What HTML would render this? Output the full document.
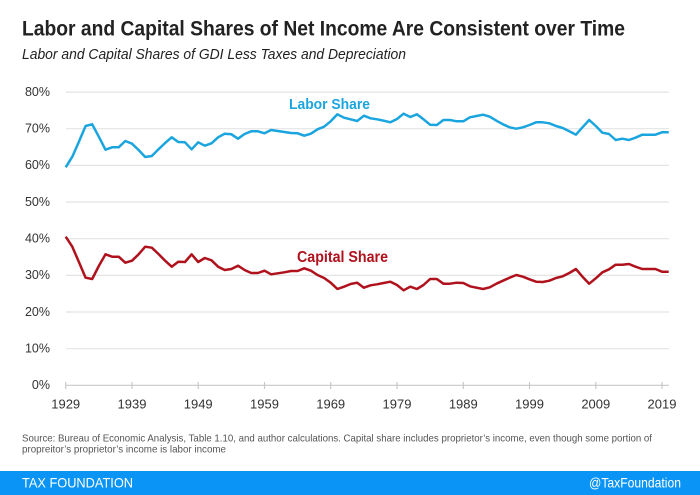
<!DOCTYPE html>
<html><head><meta charset="utf-8"><style>
html,body{margin:0;padding:0;background:#fff;}
svg{display:block;}
text{font-family:"Liberation Sans",sans-serif;}
</style></head><body>
<svg width="700" height="495" viewBox="0 0 700 495" xmlns="http://www.w3.org/2000/svg">
<rect width="700" height="495" fill="#fff"/>
<text x="22" y="35.5" font-size="21" font-weight="bold" fill="#222" textLength="603" lengthAdjust="spacingAndGlyphs">Labor and Capital Shares of Net Income Are Consistent over Time</text>
<text x="22" y="59" font-size="14.5" font-style="italic" fill="#222" textLength="384" lengthAdjust="spacingAndGlyphs">Labor and Capital Shares of GDI Less Taxes and Depreciation</text>

<g stroke="#e4e4e4" stroke-width="1.2">
<line x1="66" y1="92.1" x2="669" y2="92.1"/>
<line x1="66" y1="128.7" x2="669" y2="128.7"/>
<line x1="66" y1="165.4" x2="669" y2="165.4"/>
<line x1="66" y1="202" x2="669" y2="202"/>
<line x1="66" y1="238.7" x2="669" y2="238.7"/>
<line x1="66" y1="275.4" x2="669" y2="275.4"/>
<line x1="66" y1="312" x2="669" y2="312"/>
<line x1="66" y1="348.7" x2="669" y2="348.7"/>
</g>
<g stroke="#c8c8c8" stroke-width="1.2">
<line x1="66" y1="385.3" x2="669" y2="385.3"/>
<line x1="65.7" y1="382" x2="65.7" y2="389"/>
<line x1="132" y1="382" x2="132" y2="389"/>
<line x1="198.2" y1="382" x2="198.2" y2="389"/>
<line x1="264.5" y1="382" x2="264.5" y2="389"/>
<line x1="330.7" y1="382" x2="330.7" y2="389"/>
<line x1="397" y1="382" x2="397" y2="389"/>
<line x1="463.3" y1="382" x2="463.3" y2="389"/>
<line x1="529.5" y1="382" x2="529.5" y2="389"/>
<line x1="595.8" y1="382" x2="595.8" y2="389"/>
<line x1="662" y1="382" x2="662" y2="389"/>
</g>

<g font-size="12.5" fill="#333" text-anchor="end">
<text x="50" y="96">80%</text>
<text x="50" y="132.5">70%</text>
<text x="50" y="169.2">60%</text>
<text x="50" y="205.8">50%</text>
<text x="50" y="242.5">40%</text>
<text x="50" y="279.2">30%</text>
<text x="50" y="315.8">20%</text>
<text x="50" y="352.5">10%</text>
<text x="50" y="389.2">0%</text>
</g>
<g font-size="13" fill="#333" text-anchor="middle">
<text x="65.7" y="408.5">1929</text>
<text x="132" y="408.5">1939</text>
<text x="198.2" y="408.5">1949</text>
<text x="264.5" y="408.5">1959</text>
<text x="330.7" y="408.5">1969</text>
<text x="397" y="408.5">1979</text>
<text x="463.3" y="408.5">1989</text>
<text x="529.5" y="408.5">1999</text>
<text x="595.8" y="408.5">2009</text>
<text x="662" y="408.5">2019</text>
</g>

<polyline fill="none" stroke="#1ba5de" stroke-width="2.5" stroke-linejoin="round" points="65.7,167.3 72.3,156.7 78.9,141.7 85.6,126 92.2,124.3 98.8,136.7 105.5,149.7 112.1,147.3 118.7,147.3 125.3,141 132,143.7 138.6,150 145.2,157 151.8,156 158.5,149.3 165.1,143 171.7,137.3 178.3,142 185,142.3 191.6,149.3 198.2,142.3 204.8,145.7 211.5,143.3 218.1,137.3 224.7,133.7 231.4,134.3 238,138.7 244.6,134 251.2,131.3 257.9,131.3 264.5,133.3 271.1,130 277.7,131 284.4,132 291,133 297.6,133.3 304.2,135.7 310.9,133.7 317.5,129.3 324.1,126.7 330.7,121.3 337.4,114.3 344,117.7 350.6,119.3 357.2,121 363.9,115.7 370.5,118.3 377.1,119.3 383.7,120.7 390.4,122.3 397,119 403.6,113.7 410.3,117 416.9,114.3 423.5,119.3 430.1,124.7 436.8,125 443.4,120 450,120 456.6,121.3 463.3,121.3 469.9,117.3 476.5,116 483.1,114.7 489.8,116.7 496.4,120.7 503,124.3 509.6,127.3 516.3,128.7 522.9,127.3 529.5,125 536.1,122.3 542.8,122.3 549.4,123.3 556,126 562.7,128 569.3,131.3 575.9,134.7 582.5,127.3 589.2,120 595.8,126 602.4,132.7 609,134 615.7,140 622.3,138.7 628.9,140 635.5,137.7 642.2,134.7 648.8,134.7 655.4,134.7 662,132.3 668.7,132.3"/>
<polyline fill="none" stroke="#b0121d" stroke-width="2.5" stroke-linejoin="round" points="65.7,236.7 72.3,246.7 78.9,262 85.6,277.7 92.2,279 98.8,266 105.5,254.3 112.1,256.7 118.7,256.7 125.3,262.7 132,260.7 138.6,254.3 145.2,246.7 151.8,247.7 158.5,254 165.1,260.7 171.7,266.7 178.3,261.7 185,262 191.6,254.3 198.2,262 204.8,258 211.5,260.3 218.1,266.7 224.7,270 231.4,269 238,265.7 244.6,270 251.2,273 257.9,273 264.5,270.7 271.1,274.3 277.7,273.3 284.4,272.3 291,271 297.6,271 304.2,268.3 310.9,270.7 317.5,275 324.1,278 330.7,282.7 337.4,289 344,286.7 350.6,284 357.2,282.7 363.9,287.7 370.5,285.3 377.1,284.3 383.7,283 390.4,281.7 397,285 403.6,290.3 410.3,286.7 416.9,289 423.5,285 430.1,279 436.8,279 443.4,283.7 450,283.7 456.6,282.7 463.3,283 469.9,286.3 476.5,287.7 483.1,289 489.8,287.3 496.4,283.7 503,280.7 509.6,277.7 516.3,275 522.9,276.7 529.5,279.3 536.1,281.7 542.8,282 549.4,280.7 556,278 562.7,276.3 569.3,273 575.9,269 582.5,276.7 589.2,283.7 595.8,278.3 602.4,272.3 609,269.3 615.7,264.7 622.3,264.7 628.9,264 635.5,266.7 642.2,269 648.8,269 655.4,269 662,271.7 668.7,271.7"/>

<text x="289" y="109" font-size="15" font-weight="bold" fill="#1ba5de" textLength="81" lengthAdjust="spacingAndGlyphs">Labor Share</text>
<text x="297" y="262" font-size="15.5" font-weight="bold" fill="#b0121d" textLength="91" lengthAdjust="spacingAndGlyphs">Capital Share</text>

<text x="22" y="441.5" font-size="10.5" fill="#555" textLength="630" lengthAdjust="spacingAndGlyphs">Source: Bureau of Economic Analysis, Table 1.10, and author calculations. Capital share includes proprietor’s income, even though some portion of</text>
<text x="22" y="452.5" font-size="10.5" fill="#555" textLength="204" lengthAdjust="spacingAndGlyphs">propreitor’s proprietor’s income is labor income</text>

<rect x="0" y="471" width="700" height="24" fill="#0a94f5"/>
<text x="22" y="487.5" font-size="14" fill="#fff" textLength="111" lengthAdjust="spacingAndGlyphs">TAX FOUNDATION</text>
<text x="681" y="487.5" font-size="14" fill="#fff" text-anchor="end" textLength="92" lengthAdjust="spacingAndGlyphs">@TaxFoundation</text>
</svg>
</body></html>
